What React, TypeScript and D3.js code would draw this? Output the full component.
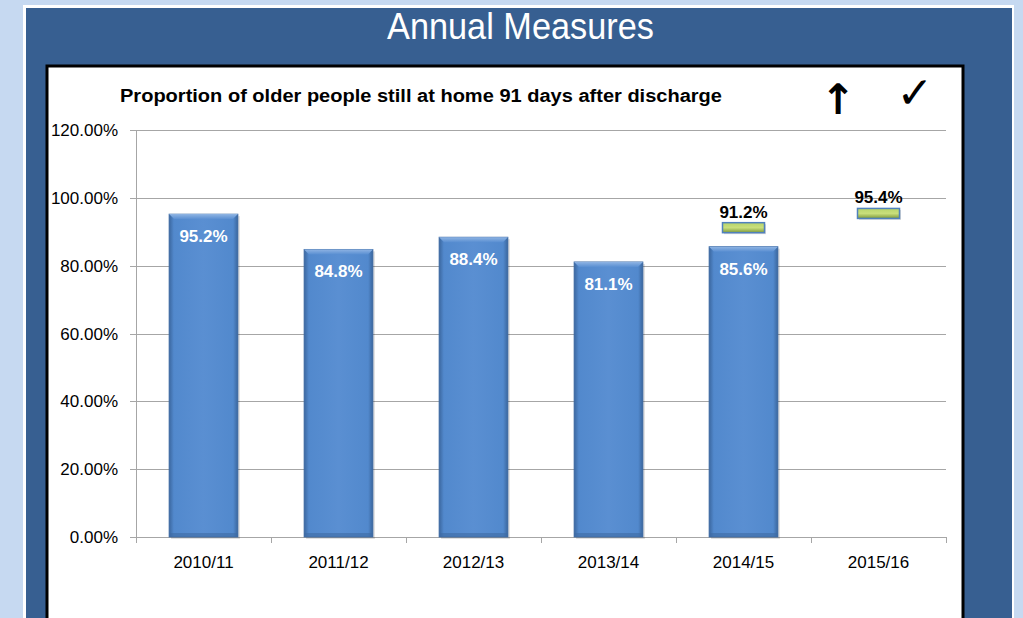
import React from "react";
import * as d3 from "d3";

const categories = ["2010/11", "2011/12", "2012/13", "2013/14", "2014/15", "2015/16"];
const actualValues: (number | null)[] = [95.2, 84.8, 88.4, 81.1, 85.6, null];
const targetValues: (number | null)[] = [null, null, null, null, 91.2, 95.4];
const yTicks = [0, 20, 40, 60, 80, 100, 120];

const W = 1023;
const H = 618;
const plot = { left: 136, right: 946, top: 130, bottom: 537 };

export default function App() {
  const x = d3.scaleBand<string>().domain(categories).range([plot.left, plot.right]).paddingInner(0).paddingOuter(0);
  const y = d3.scaleLinear().domain([0, 120]).range([plot.bottom, plot.top]);
  const bw = x.bandwidth() * 0.51;
  const tw = 42;
  const th = 10;
  const font = "'Liberation Sans', Arial, sans-serif";

  return (
    <svg width={W} height={H} style={{ position: "absolute", left: 0, top: 0 }} fontFamily={font}>
      <defs>
        <linearGradient id="barH" x1="0" x2="1" y1="0" y2="0">
          <stop offset="0" stopColor="#3b679f" />
          <stop offset="0.07" stopColor="#5289cd" />
          <stop offset="0.5" stopColor="#5a8fd2" />
          <stop offset="0.93" stopColor="#5289cd" />
          <stop offset="1" stopColor="#3a669d" />
        </linearGradient>
        <linearGradient id="barTop" x1="0" x2="0" y1="0" y2="1">
          <stop offset="0" stopColor="#8fb4e3" />
          <stop offset="1" stopColor="#5a8fd2" />
        </linearGradient>
        <linearGradient id="tgt" x1="0" x2="0" y1="0" y2="1">
          <stop offset="0" stopColor="#b7d46a" />
          <stop offset="0.5" stopColor="#c9df7c" />
          <stop offset="1" stopColor="#7e9a3a" />
        </linearGradient>
      </defs>
      <rect x={0} y={0} width={W} height={H} fill="#c6d9f1" />
      <rect x={23} y={5} width={991} height={H} fill="#ffffff" />
      <rect x={26} y={8} width={986} height={H} fill="#375f91" />
      <text x={387} y={39} fill="#ffffff" fontSize={37} fontFamily="'Liberation Sans Narrow', 'Liberation Sans', Arial, sans-serif" textLength={267} lengthAdjust="spacingAndGlyphs">
        Annual Measures
      </text>
      <rect x={47} y={66} width={916} height={H} fill="#ffffff" stroke="#000000" strokeWidth={3} />

      <text x={120} y={102} fontSize={18} fontWeight="bold" fill="#000" textLength={602} lengthAdjust="spacingAndGlyphs">
        Proportion of older people still at home 91 days after discharge
      </text>
      <text x={838} y={114} textAnchor="middle" fontSize={42} fontWeight="bold" fontFamily="'DejaVu Sans', sans-serif" fill="#000">
        ↑
      </text>
      <text x={915} y={108} textAnchor="middle" fontSize={44} fontFamily="'DejaVu Sans', sans-serif" fill="#000">
        ✓
      </text>

      {yTicks.map((t) => (
        <g key={t}>
          <line x1={plot.left - 6} x2={plot.right} y1={Math.round(y(t)) + 0.5} y2={Math.round(y(t)) + 0.5} stroke="#a6a6a6" strokeWidth={1} />
          <text x={118} y={y(t) + 6} textAnchor="end" fontSize={17} fill="#000">
            {t.toFixed(2)}%
          </text>
        </g>
      ))}
      <line x1={plot.left + 0.5} x2={plot.left + 0.5} y1={plot.top} y2={plot.bottom + 6} stroke="#a6a6a6" />
      {categories.map((c) => (
        <line key={"t" + c} x1={(x(c) as number) + x.bandwidth() + 0.5} x2={(x(c) as number) + x.bandwidth() + 0.5} y1={plot.bottom} y2={plot.bottom + 6} stroke="#a6a6a6" />
      ))}
      {categories.map((c) => (
        <text key={"l" + c} x={(x(c) as number) + x.bandwidth() / 2} y={568} textAnchor="middle" fontSize={17} fill="#000">
          {c}
        </text>
      ))}

      {categories.map((c, i) => {
        const v = actualValues[i];
        if (v == null) return null;
        const bx = (x(c) as number) + (x.bandwidth() - bw) / 2;
        const by = y(v);
        const bh = plot.bottom - by;
        return (
          <g key={"b" + c}>
            <rect x={bx + 2} y={by + 2} width={bw} height={bh} fill="#000" opacity={0.12} />
            <rect x={bx} y={by} width={bw} height={bh} fill="url(#barH)" stroke="#3d6aa3" strokeWidth={0.8} />
            <polygon points={`${bx},${by} ${bx + bw},${by} ${bx + bw - 5},${by + 5} ${bx + 5},${by + 5}`} fill="url(#barTop)" />
            <rect x={bx} y={plot.bottom - 4} width={bw} height={4} fill="#3d6aa3" opacity={0.6} />
            <text x={bx + bw / 2} y={by + 28} textAnchor="middle" fontSize={17} fontWeight="bold" fill="#ffffff">
              {v.toFixed(1)}%
            </text>
          </g>
        );
      })}

      {categories.map((c, i) => {
        const v = targetValues[i];
        if (v == null) return null;
        const cx = (x(c) as number) + x.bandwidth() / 2;
        const cy = y(v);
        return (
          <g key={"g" + c}>
            <rect x={cx - tw / 2 + 1.5} y={cy - th / 2 + 1.5} width={tw} height={th} fill="#000" opacity={0.15} />
            <rect x={cx - tw / 2} y={cy - th / 2} width={tw} height={th} fill="url(#tgt)" stroke="#4f81bd" strokeWidth={1.5} />
            <text x={cx} y={cy - th / 2 - 5} textAnchor="middle" fontSize={17} fontWeight="bold" fill="#000">
              {v.toFixed(1)}%
            </text>
          </g>
        );
      })}
    </svg>
  );
}
